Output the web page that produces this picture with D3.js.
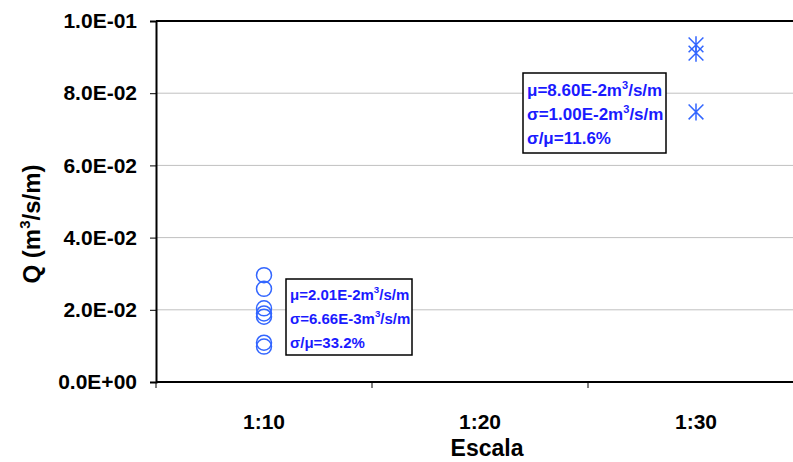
<!DOCTYPE html>
<html>
<head>
<meta charset="utf-8">
<script src="https://cdn.jsdelivr.net/npm/d3@7"></script>
<style>
  body { margin: 0; background: #fff; }
  svg { display: block; font-family: "Liberation Sans", Arial, sans-serif; }
</style>
</head>
<body>
<script>
// categories on the x axis
const escalas = ["1:10", "1:20", "1:30"];
// Q values (m3/s/m)
const q110 = [0.0296, 0.0258, 0.0204, 0.0190, 0.0181, 0.0109, 0.0098];
const q130 = [0.0934, 0.0911, 0.0748];
const yTicks = [0, 0.02, 0.04, 0.06, 0.08, 0.1];
// stats boxes
const stats110 = ["2.01E-2", "6.66E-3", "33.2%"];
const stats130 = ["8.60E-2", "1.00E-2", "11.6%"];

const W = 793, H = 462;
const margin = {top: 21, left: 156, bottom: 80, right: -11};
const width = W - margin.left - margin.right;
const height = H - margin.top - margin.bottom;

const svg = d3.select("body").append("svg")
  .attr("width", W).attr("height", H);

const g = svg.append("g")
  .attr("transform", "translate(" + margin.left + "," + margin.top + ")");

const xScale = d3.scaleBand().domain(escalas).range([0, width]);
const yScale = d3.scaleLinear().domain([0, 0.1]).range([height, 0]);

// gridlines
g.selectAll(".grid")
  .data(yTicks.filter(d => d > 0 && d < 0.1))
  .join("line")
  .attr("class", "grid")
  .attr("x1", 0).attr("x2", width)
  .attr("y1", d => yScale(d)).attr("y2", d => yScale(d))
  .attr("stroke", "#c0c0c0").attr("stroke-width", 1);

// top border
g.append("line")
  .attr("x1", 0).attr("x2", width)
  .attr("y1", 0).attr("y2", 0)
  .attr("stroke", "#000").attr("stroke-width", 2);

const fmt = d => d === 0 ? "0.0E+00" : d3.format(".1e")(d).replace("e-", "E-0");

const yAxis = d3.axisLeft(yScale).tickValues(yTicks).tickSize(6).tickPadding(13).tickFormat(fmt);
const yG = g.append("g").call(yAxis);
yG.select(".domain").attr("stroke-width", 2);
yG.selectAll("text").attr("font-size", 21).attr("font-weight", "bold").attr("fill", "#000");

// x axis: ticks on band edges, labels at band centres
const xAxisG = g.append("g").attr("transform", "translate(0," + height + ")");
xAxisG.append("line").attr("x1", 0).attr("x2", width)
  .attr("stroke", "#000").attr("stroke-width", 2);
xAxisG.selectAll(".xt")
  .data(escalas)
  .join("line")
  .attr("class", "xt")
  .attr("x1", d => xScale(d)).attr("x2", d => xScale(d))
  .attr("y1", 0).attr("y2", 6)
  .attr("stroke", "#000");
xAxisG.selectAll(".xl")
  .data(escalas)
  .join("text")
  .attr("class", "xl")
  .attr("x", d => xScale(d) + xScale.bandwidth() / 2)
  .attr("y", 47)
  .attr("text-anchor", "middle")
  .attr("font-size", 21).attr("font-weight", "bold")
  .text(d => d);

// axis titles
svg.append("text")
  .attr("x", 487).attr("y", 456)
  .attr("text-anchor", "middle")
  .attr("font-size", 23).attr("font-weight", "bold")
  .text("Escala");

const yt = svg.append("text")
  .attr("transform", "translate(40,224) rotate(-90)")
  .attr("text-anchor", "middle")
  .attr("font-size", 24).attr("font-weight", "bold");
yt.append("tspan").text("Q (m");
yt.append("tspan").attr("dy", -10).attr("font-size", 15).text("3");
yt.append("tspan").attr("dy", 10).text("/s/m)");

const blue = "#3366ff";
const cx = d => xScale(d) + xScale.bandwidth() / 2;

// circles for 1:10
g.selectAll(".c110")
  .data(q110)
  .join("circle")
  .attr("class", "c110")
  .attr("cx", cx("1:10"))
  .attr("cy", d => yScale(d))
  .attr("r", 7.5)
  .attr("fill", "none")
  .attr("stroke", blue).attr("stroke-width", 1.5);

// star markers for 1:30
const s = 8.5;
g.selectAll(".s130")
  .data(q130)
  .join("path")
  .attr("class", "s130")
  .attr("transform", d => "translate(" + cx("1:30") + "," + yScale(d) + ")")
  .attr("d", "M0," + (-s) + "V" + s + "M" + (-s * 0.87) + "," + (-s * 0.87) + "L" + (s * 0.87) + "," + (s * 0.87) +
             "M" + (s * 0.87) + "," + (-s * 0.87) + "L" + (-s * 0.87) + "," + (s * 0.87))
  .attr("fill", "none")
  .attr("stroke", blue).attr("stroke-width", 1.5);

// stats boxes
function statBox(x, y, w, h, fs, vals) {
  const b = svg.append("g").attr("transform", "translate(" + x + "," + y + ")");
  b.append("rect").attr("width", w).attr("height", h)
    .attr("fill", "#fff").attr("stroke", "#000").attr("stroke-width", 1.5);
  const lines = [
    ["\u03bc=" + vals[0] + "m", "3", "/s/m"],
    ["\u03c3=" + vals[1] + "m", "3", "/s/m"],
    ["\u03c3/\u03bc=" + vals[2]]
  ];
  lines.forEach((l, i) => {
    const t = b.append("text")
      .attr("x", 4).attr("y", h / 2 - 17 + i * 24)
      .attr("font-size", fs).attr("font-weight", "bold")
      .attr("fill", "#1a1aff");
    t.append("tspan").text(l[0]);
    if (l.length > 1) {
      t.append("tspan").attr("dy", -7).attr("font-size", fs * 0.65).text(l[1]);
      t.append("tspan").attr("dy", 7).text(l[2]);
    }
  });
}
statBox(286, 279, 126, 76, 15, stats110);
statBox(523, 73, 143, 80, 17, stats130);
</script>
</body>
</html>
